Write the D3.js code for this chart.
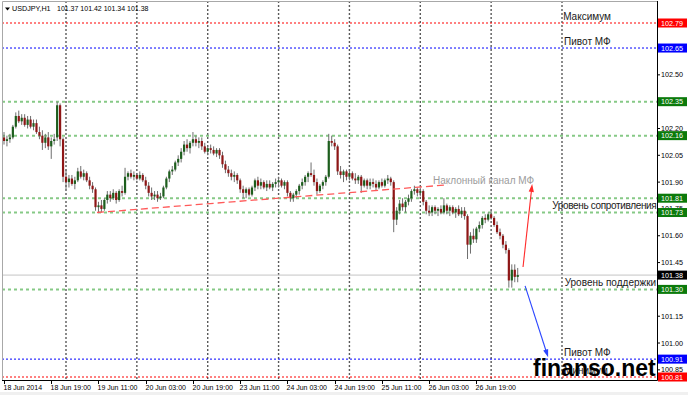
<!DOCTYPE html>
<html>
<head>
<meta charset="utf-8">
<script src="https://cdn.jsdelivr.net/npm/d3@7"></script>
<style>
  html, body { margin: 0; padding: 0; background: #fff; }
  svg { display: block; }
</style>
</head>
<body>
<svg id="chart" width="688" height="395"></svg>
<script>
// USDJPY H1 bars, 18 Jun 2014 03:00 -> 27 Jun 2014 09:00
const opens = [
  102.15, 102.13, 102.14, 102.15, 102.21, 102.27, 102.24, 102.26, 102.22, 102.25,
  102.21, 102.23, 102.18, 102.16, 102.12, 102.15, 102.10, 102.13, 102.15, 102.33,
  102.14, 101.93, 101.90, 101.92, 101.89, 101.91, 101.96, 101.93, 101.95, 101.91,
  101.88, 101.86, 101.76, 101.77, 101.75, 101.80, 101.83, 101.81, 101.84, 101.80,
  101.85, 101.84, 101.93, 101.95, 101.93, 101.94, 101.92, 101.94, 101.91, 101.88,
  101.84, 101.82, 101.83, 101.81, 101.82, 101.87, 101.92, 101.96, 101.97, 102.01,
  102.03, 102.07, 102.11, 102.09, 102.12, 102.14, 102.12, 102.13, 102.10, 102.07,
  102.09, 102.08, 102.06, 102.08, 102.05, 102.00, 101.97, 101.95, 101.93, 101.94,
  101.91, 101.86, 101.84, 101.86, 101.83, 101.87, 101.91, 101.88, 101.90, 101.87,
  101.89, 101.87, 101.89, 101.90, 101.91, 101.88, 101.90, 101.84, 101.81, 101.83,
  101.85, 101.88, 101.90, 101.93, 101.95, 101.94, 101.90, 101.85, 101.88, 101.90,
  101.93, 102.13, 102.12, 102.10, 101.96, 101.94, 101.96, 101.93, 101.95, 101.92,
  101.91, 101.93, 101.88, 101.91, 101.88, 101.90, 101.89, 101.87, 101.90, 101.88,
  101.91, 101.92, 101.90, 101.69, 101.74, 101.78, 101.76, 101.79, 101.81, 101.85,
  101.86, 101.84, 101.85, 101.79, 101.74, 101.73, 101.76, 101.74, 101.75, 101.73,
  101.77, 101.74, 101.76, 101.73, 101.75, 101.72, 101.74, 101.71, 101.55, 101.60,
  101.58, 101.64, 101.66, 101.70, 101.69, 101.72, 101.70, 101.66, 101.62, 101.60,
  101.55, 101.52, 101.35, 101.41, 101.37
]
const highs = [
  102.18, 102.16, 102.17, 102.22, 102.29, 102.30, 102.28, 102.28, 102.27, 102.27,
  102.25, 102.25, 102.21, 102.19, 102.17, 102.18, 102.15, 102.17, 102.35, 102.34,
  102.15, 101.97, 101.94, 101.94, 101.93, 101.98, 101.99, 101.97, 101.96, 101.93,
  101.90, 101.87, 101.79, 101.80, 101.81, 101.85, 101.85, 101.86, 101.85, 101.86,
  101.88, 101.98, 101.96, 101.97, 101.96, 101.95, 101.96, 101.95, 101.93, 101.90,
  101.87, 101.85, 101.85, 101.84, 101.88, 101.93, 101.97, 101.99, 102.02, 102.05,
  102.09, 102.13, 102.14, 102.13, 102.18, 102.16, 102.15, 102.15, 102.12, 102.10,
  102.11, 102.10, 102.09, 102.09, 102.07, 102.02, 101.99, 101.97, 101.96, 101.95,
  101.92, 101.88, 101.87, 101.87, 101.88, 101.92, 101.93, 101.92, 101.91, 101.91,
  101.91, 101.90, 101.92, 101.93, 101.92, 101.91, 101.91, 101.85, 101.84, 101.86,
  101.89, 101.92, 101.94, 101.96, 102.01, 101.97, 101.92, 101.89, 101.91, 101.94,
  102.17, 102.16, 102.14, 102.11, 101.99, 101.97, 101.97, 101.97, 101.96, 101.95,
  101.94, 101.94, 101.92, 101.92, 101.92, 101.92, 101.91, 101.91, 101.92, 101.92,
  101.94, 101.93, 101.91, 101.76, 101.80, 101.81, 101.80, 101.83, 101.86, 101.88,
  101.87, 101.87, 101.86, 101.80, 101.77, 101.77, 101.77, 101.76, 101.77, 101.81,
  101.78, 101.77, 101.77, 101.76, 101.77, 101.76, 101.76, 101.72, 101.62, 101.64,
  101.65, 101.68, 101.71, 101.72, 101.73, 101.74, 101.71, 101.68, 101.64, 101.61,
  101.57, 101.53, 101.44, 101.44, 101.42
]
const lows = [
  102.11, 102.10, 102.12, 102.14, 102.20, 102.23, 102.22, 102.21, 102.20, 102.20,
  102.19, 102.17, 102.14, 102.08, 102.09, 102.08, 102.03, 102.11, 102.13, 102.10,
  101.90, 101.86, 101.87, 101.88, 101.86, 101.90, 101.92, 101.91, 101.90, 101.86,
  101.84, 101.74, 101.73, 101.73, 101.74, 101.78, 101.79, 101.80, 101.78, 101.79,
  101.82, 101.83, 101.91, 101.92, 101.91, 101.91, 101.91, 101.90, 101.86, 101.82,
  101.80, 101.80, 101.79, 101.80, 101.81, 101.86, 101.90, 101.94, 101.96, 101.99,
  102.01, 102.05, 102.07, 102.06, 102.10, 102.10, 102.09, 102.08, 102.06, 102.05,
  102.06, 102.05, 102.04, 102.03, 101.98, 101.95, 101.93, 101.91, 101.90, 101.89,
  101.84, 101.81, 101.81, 101.82, 101.82, 101.85, 101.86, 101.86, 101.86, 101.85,
  101.86, 101.85, 101.87, 101.87, 101.87, 101.86, 101.82, 101.79, 101.79, 101.81,
  101.83, 101.86, 101.88, 101.90, 101.93, 101.88, 101.83, 101.84, 101.86, 101.88,
  101.92, 102.10, 102.08, 101.94, 101.92, 101.90, 101.91, 101.91, 101.91, 101.89,
  101.89, 101.84, 101.87, 101.86, 101.86, 101.87, 101.85, 101.86, 101.87, 101.87,
  101.89, 101.88, 101.62, 101.66, 101.72, 101.74, 101.73, 101.77, 101.79, 101.83,
  101.82, 101.82, 101.77, 101.72, 101.71, 101.71, 101.72, 101.71, 101.72, 101.72,
  101.72, 101.71, 101.72, 101.70, 101.71, 101.70, 101.69, 101.47, 101.50, 101.56,
  101.56, 101.62, 101.64, 101.67, 101.68, 101.69, 101.65, 101.61, 101.58, 101.53,
  101.50, 101.31, 101.31, 101.34, 101.34
]
const closes = [
  102.13, 102.14, 102.15, 102.21, 102.27, 102.24, 102.26, 102.22, 102.25, 102.21,
  102.23, 102.18, 102.16, 102.12, 102.15, 102.10, 102.13, 102.14, 102.33, 102.14,
  101.93, 101.90, 101.92, 101.89, 101.91, 101.96, 101.93, 101.95, 101.91, 101.88,
  101.86, 101.76, 101.77, 101.75, 101.80, 101.83, 101.81, 101.84, 101.80, 101.85,
  101.84, 101.93, 101.95, 101.93, 101.94, 101.92, 101.94, 101.91, 101.88, 101.84,
  101.82, 101.83, 101.81, 101.82, 101.87, 101.92, 101.96, 101.97, 102.01, 102.03,
  102.07, 102.11, 102.09, 102.12, 102.14, 102.12, 102.13, 102.10, 102.07, 102.09,
  102.08, 102.06, 102.08, 102.05, 102.00, 101.97, 101.95, 101.93, 101.94, 101.91,
  101.86, 101.84, 101.86, 101.83, 101.87, 101.91, 101.88, 101.90, 101.87, 101.89,
  101.87, 101.89, 101.90, 101.91, 101.88, 101.90, 101.84, 101.81, 101.83, 101.85,
  101.88, 101.90, 101.93, 101.95, 101.94, 101.90, 101.85, 101.88, 101.90, 101.93,
  102.13, 102.12, 102.10, 101.96, 101.94, 101.96, 101.93, 101.95, 101.92, 101.91,
  101.93, 101.88, 101.91, 101.88, 101.90, 101.89, 101.87, 101.90, 101.88, 101.91,
  101.92, 101.90, 101.69, 101.74, 101.78, 101.76, 101.79, 101.81, 101.85, 101.86,
  101.84, 101.85, 101.79, 101.74, 101.73, 101.76, 101.74, 101.75, 101.73, 101.77,
  101.74, 101.76, 101.73, 101.75, 101.72, 101.74, 101.71, 101.55, 101.60, 101.58,
  101.64, 101.66, 101.70, 101.69, 101.72, 101.70, 101.66, 101.62, 101.60, 101.55,
  101.52, 101.35, 101.41, 101.37, 101.38
]

// time axis: bar index of each label, and of each day start (grid)
const timeLabelBars = [0, 16, 32, 48, 64, 80, 96, 112, 128, 144, 160]
const timeLabels = [
  '18 Jun 2014', '18 Jun 19:00', '19 Jun 11:00', '20 Jun 03:00', '20 Jun 19:00',
  '23 Jun 11:00', '24 Jun 03:00', '24 Jun 19:00', '25 Jun 11:00', '26 Jun 03:00',
  '26 Jun 19:00'
]
const dayBreakBars = [21, 45, 69, 93, 117, 141, 165, 189]

// price axis
const priceTicks = [102.80, 102.65, 102.50, 102.35, 102.20, 102.05, 101.90,
  101.75, 101.60, 101.45, 101.30, 101.15, 101.00, 100.85]

// horizontal levels drawn on the chart
const levelPrices = [102.79, 102.65, 102.35, 102.16, 101.81, 101.73, 101.30, 100.91, 100.81]
const levelKinds = ['extreme', 'pivot', 'level', 'level', 'level', 'level', 'level', 'pivot', 'extreme']
const bidPrice = 101.38

// text notes: price of the level they sit on and bar where they start
const noteTexts = ['Максимум', 'Пивот МФ', 'Уровень сопротивления', 'Уровень поддержки', 'Пивот МФ', 'Минимум']
const notePrices = [102.79, 102.65, 101.73, 101.30, 100.91, 100.81]
const noteBars = [189.4, 189.7, 185.7, 189.9, 189.7, 189.7]

// sloped channel (bar, price) and forecast arrows
const channelBars = [31.5, 150.4]
const channelPrices = [101.73, 101.885]
const channelText = 'Наклонный канал МФ'
const upArrowBars = [175.8, 178.9]
const upArrowPrices = [101.425, 101.89]
const downArrowBars = [176.5, 184.3]
const downArrowPrices = [101.32, 100.92]

const symbol = 'USDJPY,H1'
const watermark = 'finanso.net'

// ---------------------------------------------------------------------------

const width = 688
const height = 395
const frame = { left: 2, top: 1, right: 657, bottom: 380 }
const font = '"Liberation Sans", Arial, sans-serif'

const levelStyle = {
  extreme: { stroke: '#ff0000', width: 1, dash: '2,2', box: '#ff0000' },
  pivot: { stroke: '#0000ff', width: 1, dash: '2,2', box: '#0000ff' },
  level: { stroke: '#86c986', width: 2, dash: '3,3', box: '#0b7a0b' },
}

const x = d3.scaleLinear().domain([0, 189]).range([4, 562])
const y = d3.scaleLinear().domain([100.81, 102.79]).range([377, 23])

const svg = d3.select('#chart')

// background
svg.append('rect')
  .attr('width', width).attr('height', height)
  .attr('fill', '#ffffff')
svg.append('rect')
  .attr('x', 0).attr('y', 392).attr('width', width).attr('height', 3)
  .attr('fill', '#f0f0f0')

svg.append('defs').append('clipPath').attr('id', 'plotClip')
  .append('rect')
  .attr('x', frame.left).attr('y', frame.top)
  .attr('width', frame.right - frame.left).attr('height', frame.bottom - frame.top)

const plot = svg.append('g').attr('clip-path', 'url(#plotClip)')

// vertical day grid
plot.append('g').attr('id', 'grid')
  .selectAll('line')
  .data(dayBreakBars)
  .join('line')
  .attr('x1', (d) => x(d)).attr('x2', (d) => x(d))
  .attr('y1', frame.top).attr('y2', frame.bottom)
  .attr('stroke', '#5a5a5a')
  .attr('stroke-width', 1.4)
  .attr('stroke-dasharray', '2,2')

// horizontal levels
plot.append('g').attr('id', 'levels')
  .selectAll('line')
  .data(levelPrices)
  .join('line')
  .attr('x1', frame.left).attr('x2', frame.right)
  .attr('y1', (d) => y(d)).attr('y2', (d) => y(d))
  .attr('stroke', (d, i) => levelStyle[levelKinds[i]].stroke)
  .attr('stroke-width', (d, i) => levelStyle[levelKinds[i]].width)
  .attr('stroke-dasharray', (d, i) => levelStyle[levelKinds[i]].dash)

// bid line
plot.append('line')
  .attr('x1', frame.left).attr('x2', frame.right)
  .attr('y1', y(bidPrice)).attr('y2', y(bidPrice))
  .attr('stroke', '#c4c4c4')

// candles
const bars = d3.range(closes.length).map((i) => ({
  i,
  o: opens[i],
  h: highs[i],
  l: lows[i],
  c: closes[i],
}))

const candles = plot.append('g').attr('id', 'candles')
  .selectAll('g')
  .data(bars)
  .join('g')

candles.append('line')
  .attr('x1', (d) => x(d.i)).attr('x2', (d) => x(d.i))
  .attr('y1', (d) => y(d.h)).attr('y2', (d) => y(d.l))
  .attr('stroke', '#6e6e6e')
  .attr('stroke-width', 1)

candles.append('rect')
  .attr('x', (d) => x(d.i) - 1.1)
  .attr('width', 2.2)
  .attr('y', (d) => y(Math.max(d.o, d.c)))
  .attr('height', (d) => Math.max(1, Math.abs(y(d.o) - y(d.c))))
  .attr('fill', (d) => (d.c >= d.o ? '#1d5e1d' : '#8e1616'))

// sloped channel
plot.append('line')
  .attr('x1', x(channelBars[0])).attr('y1', y(channelPrices[0]))
  .attr('x2', x(channelBars[1])).attr('y2', y(channelPrices[1]))
  .attr('stroke', '#ff5a5a')
  .attr('stroke-width', 1.3)
  .attr('stroke-dasharray', '7,4')

plot.append('text')
  .attr('x', x(channelBars[1]) - 15)
  .attr('y', y(channelPrices[1]) - 1)
  .attr('font-family', font)
  .attr('font-size', 10)
  .attr('fill', '#9c9c9c')
  .text(channelText)

// arrows
function arrow(bx, py, color) {
  const x1 = x(bx[0]), y1 = y(py[0]), x2 = x(bx[1]), y2 = y(py[1])
  const a = Math.atan2(y2 - y1, x2 - x1)
  const len = 8, half = 2.6
  plot.append('line')
    .attr('x1', x1).attr('y1', y1)
    .attr('x2', x2 - Math.cos(a) * len * 0.6).attr('y2', y2 - Math.sin(a) * len * 0.6)
    .attr('stroke', color).attr('stroke-width', 1.1)
  const bxp = x2 - Math.cos(a) * len, byp = y2 - Math.sin(a) * len
  plot.append('path')
    .attr('d', `M${x2},${y2}L${bxp - Math.sin(a) * half},${byp + Math.cos(a) * half}` +
      `L${bxp + Math.sin(a) * half},${byp - Math.cos(a) * half}Z`)
    .attr('fill', color)
}
arrow(upArrowBars, upArrowPrices, '#ff2a2a')
arrow(downArrowBars, downArrowPrices, '#2a45ff')

// notes on levels
plot.append('g').attr('id', 'notes')
  .selectAll('text')
  .data(noteTexts)
  .join('text')
  .attr('x', (d, i) => x(noteBars[i]))
  .attr('y', (d, i) => y(notePrices[i]) - 3.5)
  .attr('font-family', font)
  .attr('font-size', 10)
  .attr('letter-spacing', (d) => (d.length > 18 ? -0.35 : 0))
  .attr('fill', '#1a1a1a')
  .text((d) => d)

// frame
svg.append('path')
  .attr('d', `M${frame.left + 0.5},${frame.bottom}V${frame.top + 0.5}H${frame.right}`)
  .attr('fill', 'none')
  .attr('stroke', '#a8a8a8')

// right price axis
const priceAxis = svg.append('g').attr('id', 'priceAxis')
priceAxis.append('line')
  .attr('x1', frame.right + 0.5).attr('x2', frame.right + 0.5)
  .attr('y1', frame.top).attr('y2', frame.bottom + 0.5)
  .attr('stroke', '#000')

// ticks that a level box would cover completely are left out
const shownTicks = priceTicks.filter(
  (t) => !levelPrices.some((p) => Math.abs(y(p) - y(t)) < 2.5)
)

const pt = priceAxis.selectAll('g.tick')
  .data(shownTicks)
  .join('g')
  .attr('class', 'tick')
  .attr('transform', (d) => `translate(0,${y(d)})`)
pt.append('line')
  .attr('x1', frame.right).attr('x2', frame.right + 3)
  .attr('stroke', '#000')
pt.append('text')
  .attr('x', frame.right + 4)
  .attr('dy', '0.35em')
  .attr('font-family', font)
  .attr('font-size', 7.2)
  .attr('fill', '#000')
  .text((d) => d.toFixed(2))

// price boxes for the levels and bid
const boxData = levelPrices.map((p, i) => ({ p, fill: levelStyle[levelKinds[i]].box }))
boxData.push({ p: bidPrice, fill: '#000000' })

const boxes = priceAxis.selectAll('g.box')
  .data(boxData)
  .join('g')
  .attr('class', 'box')
  .attr('transform', (d) => `translate(0,${y(d.p)})`)
boxes.append('rect')
  .attr('x', frame.right + 1).attr('y', -4.5)
  .attr('width', 29).attr('height', 9)
  .attr('fill', (d) => d.fill)
boxes.append('text')
  .attr('x', frame.right + 4)
  .attr('dy', '0.35em')
  .attr('font-family', font)
  .attr('font-size', 7.2)
  .attr('fill', '#ffffff')
  .text((d) => d.p.toFixed(2))

// bottom time axis
const timeAxis = svg.append('g').attr('id', 'timeAxis')
timeAxis.append('line')
  .attr('x1', frame.left).attr('x2', frame.right + 0.5)
  .attr('y1', frame.bottom + 0.5).attr('y2', frame.bottom + 0.5)
  .attr('stroke', '#000')

const tt = timeAxis.selectAll('g.tick')
  .data(timeLabelBars)
  .join('g')
  .attr('class', 'tick')
  .attr('transform', (d) => `translate(${Math.round(x(d)) + 0.5},0)`)
tt.append('line')
  .attr('y1', frame.bottom).attr('y2', frame.bottom + 4)
  .attr('stroke', '#000')
tt.append('text')
  .attr('x', -1)
  .attr('y', 389.5)
  .attr('font-family', font)
  .attr('font-size', 7)
  .attr('fill', '#000')
  .text((d, i) => timeLabels[i])

// header
const last = closes.length - 1
svg.append('path')
  .attr('d', 'M5,7.5H10L7.5,10.5Z')
  .attr('fill', '#000')
svg.append('text')
  .attr('x', 12).attr('y', 11)
  .attr('font-family', font)
  .attr('font-size', 7.2)
  .attr('fill', '#000')
  .text(symbol)
svg.append('text')
  .attr('x', 57).attr('y', 11)
  .attr('font-family', font)
  .attr('font-size', 7)
  .attr('fill', '#000')
  .text([opens[last], highs[last], lows[last], closes[last]].map((v) => v.toFixed(2)).join(' '))

// watermark
svg.append('text')
  .attr('x', 533).attr('y', 375.5)
  .attr('font-family', font)
  .attr('font-weight', 'bold')
  .attr('font-size', 23)
  .attr('fill', '#000')
  .text(watermark)
</script>
</body>
</html>
